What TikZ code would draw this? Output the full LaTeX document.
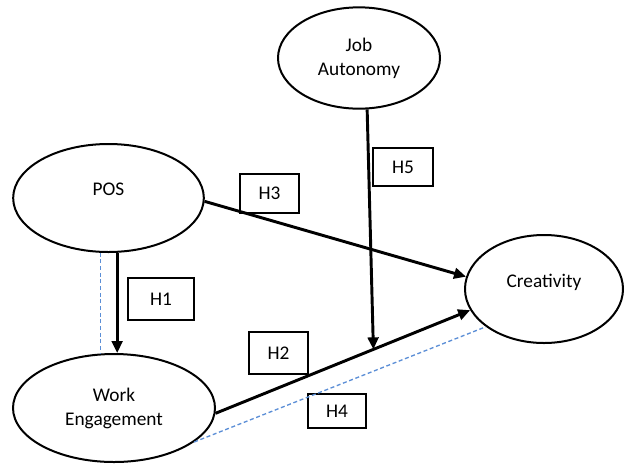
\documentclass[tikz,border=0pt]{standalone}
\usepackage{fontspec}
\setmainfont{Carlito}
\usepackage{xcolor}
\usepackage{tikz}
\usetikzlibrary{positioning, arrows.meta, shapes.geometric, calc}
\definecolor{linkBlue}{RGB}{91, 142, 214}

\begin{document}
\begin{tikzpicture}[
    x=0.75pt, y=-0.75pt,
    font=\fontsize{14.5}{18}\selectfont,
    construct/.style={ellipse, draw, line width=1.5pt, inner sep=0pt, align=center},
    hyp/.style={rectangle, draw, line width=1.5pt, minimum width=44pt, minimum height=29pt, inner sep=0pt},
    arr/.style={-{Triangle[length=9pt, width=8pt]}, line width=2.2pt},
    link/.style={linkBlue, line width=1pt, dash pattern=on 3pt off 2pt}
]
\useasboundingbox (0,0) rectangle (628,465);

% constructs
\node[construct, minimum width=143pt, minimum height=81pt, text depth=13pt] (pos) at (108.5,198) {POS};
\node[construct, minimum width=121.5pt, minimum height=76pt] (ja) at (359,58) {Job\\Autonomy};
\node[construct, minimum width=118.5pt, minimum height=81pt, text depth=12pt] (crea) at (544,289) {Creativity};
\node[construct, minimum width=151.5pt, minimum height=81pt] (we) at (114,408) {Work\\Engagement};

% hypothesis labels
\node[hyp, minimum width=49.5pt, minimum height=31pt] (h1) at (161,299) {H1};
\node[hyp, minimum height=31pt] (h2) at (278.5,353) {H2};
\node[hyp] (h3) at (269.5,193.5) {H3};
\node[hyp, minimum height=26pt] (h4) at (337,411) {H4};
\node[hyp, minimum width=45pt, minimum height=28.5pt] (h5) at (403,167) {H5};

% dashed links
\coordinate (ltop) at ($(pos.-99)+(0.5,0)$);
\draw[link] (ltop) -- (ltop |- we.north);
\draw[link] (we.-23) -- (crea.213);

% paths
\draw[arr] (pos.-81) -- (pos.-81 |- we.north);
\draw[arr] (pos.-2) -- (crea.171);
\draw[arr] (we.-3) -- coordinate[pos=0.62] (mod) (crea.196);
\draw[arr] (ja.-81) -- (mod);
\end{tikzpicture}
\end{document}
